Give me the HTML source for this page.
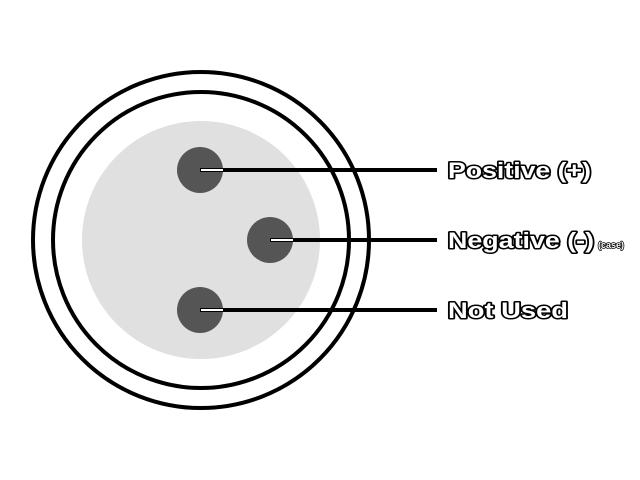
<!DOCTYPE html>
<html><head><style>html,body{margin:0;padding:0;background:#fff;width:640px;height:480px;overflow:hidden}</style></head>
<body>
<svg width="640" height="480" xmlns="http://www.w3.org/2000/svg">
<circle cx="201" cy="240" r="168" fill="none" stroke="#000" stroke-width="4"/>
<circle cx="201" cy="240" r="148" fill="none" stroke="#000" stroke-width="4"/>
<circle cx="201" cy="240" r="119" fill="#e0e0e0"/>
<circle cx="200" cy="170" r="23" fill="#555"/>
<circle cx="270" cy="240" r="23" fill="#555"/>
<circle cx="200" cy="310" r="23" fill="#555"/>
<g stroke="#000" stroke-width="4">
<line x1="200" y1="170" x2="437" y2="170"/>
<line x1="270" y1="240" x2="437" y2="240"/>
<line x1="200" y1="310" x2="437" y2="310"/>
</g>
<g fill="#fff">
<rect x="201" y="169" width="22" height="2"/>
<rect x="271" y="239" width="22" height="2"/>
<rect x="201" y="309" width="22" height="2"/>
</g>
<g font-family="Liberation Sans, sans-serif" font-weight="bold" fill="#fff" stroke="#000" stroke-width="3" paint-order="stroke" stroke-linejoin="round">
<text x="448" y="178" font-size="22" textLength="143" lengthAdjust="spacingAndGlyphs">Positive (+)</text>
<text x="448" y="248" font-size="22" textLength="146" lengthAdjust="spacingAndGlyphs">Negative (-)</text>
<text x="598" y="248" font-size="9" stroke-width="1.5">(case)</text>
<text x="448" y="318" font-size="22" textLength="120" lengthAdjust="spacingAndGlyphs">Not Used</text>
</g>
</svg>
</body></html>
